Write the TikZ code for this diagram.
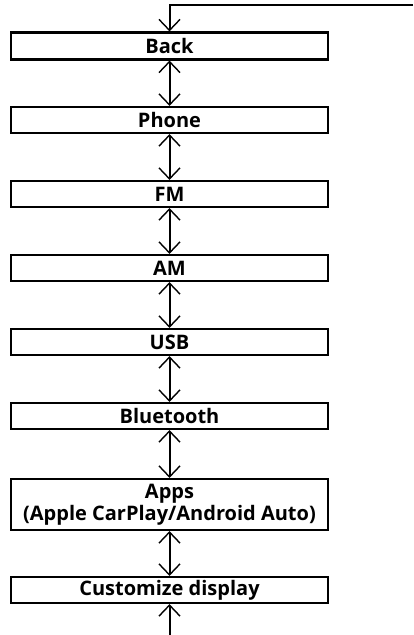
\documentclass[tikz,border=0pt]{standalone}
\usepackage{fontspec}
\setmainfont{Open Sans}
\usetikzlibrary{arrows.meta}
\begin{document}
\begin{tikzpicture}[x=1pt,y=-1pt,
  menubox/.style={draw,line width=2.2pt,minimum width=317pt,inner sep=0pt,align=center,font=\bfseries\fontsize{20}{22}\selectfont},
  link/.style={line width=2pt,{Straight Barb[length=11pt,width=21pt,line width=1.4pt]}-{Straight Barb[length=11pt,width=21pt,line width=1.4pt]}},
  inlink/.style={line width=2pt,-{Straight Barb[length=11pt,width=21pt,line width=1.4pt]}}]
\useasboundingbox (0,0) rectangle (413,635);
\node[menubox,minimum height=27pt] (back) at (169.5,46) {Back};
\node[menubox,minimum height=26pt] (phone) at (169.5,120) {Phone};
\node[menubox,minimum height=26pt] (fm) at (169.5,194) {FM};
\node[menubox,minimum height=26pt] (am) at (169.5,268) {AM};
\node[menubox,minimum height=26pt] (usb) at (169.5,342) {USB};
\node[menubox,minimum height=26pt] (bt) at (169.5,416) {Bluetooth};
\node[menubox,minimum height=51pt] (apps) at (169.5,504.5) {Apps\\(Apple CarPlay/Android Auto)};
\node[menubox,minimum height=26pt] (cust) at (169.5,590) {Customize display};
\coordinate (topright) at (413,5);
\coordinate (bottom) at (169.5,635);
\draw[inlink] (topright) -| (back.north);
\draw[link] (back) -- (phone);
\draw[link] (phone) -- (fm);
\draw[link] (fm) -- (am);
\draw[link] (am) -- (usb);
\draw[link] (usb) -- (bt);
\draw[link] (bt) -- (apps);
\draw[link] (apps) -- (cust);
\draw[inlink] (bottom) -- (cust.south);
\end{tikzpicture}
\end{document}
